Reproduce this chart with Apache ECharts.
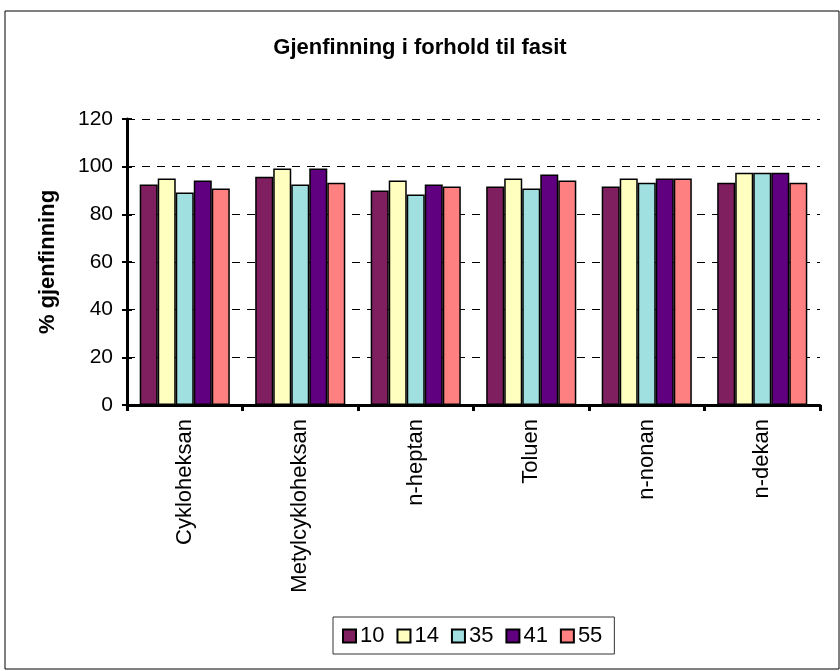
<!DOCTYPE html>
<html>
<head>
<meta charset="utf-8">
<script src="https://cdn.jsdelivr.net/npm/echarts@6/dist/echarts.min.js"></script>
<style>
  html, body { margin: 0; padding: 0; background: #fff; }
  #chart { width: 840px; height: 671px; }
</style>
</head>
<body>
<div id="chart"></div>
<script>
const categories = ['Cykloheksan', 'Metylcykloheksan', 'n-heptan', 'Toluen', 'n-nonan', 'n-dekan']
const seriesNames = ['10', '14', '35', '41', '55']
const s10 = [92.5, 95.8, 90.0, 91.7, 91.7, 93.3]
const s14 = [95.0, 99.2, 94.2, 95.0, 95.0, 97.5]
const s35 = [89.2, 92.5, 88.3, 90.8, 93.3, 97.5]
const s41 = [94.2, 99.2, 92.5, 96.7, 95.0, 97.5]
const s55 = [90.8, 93.3, 91.7, 94.2, 95.0, 93.3]
const colors = ['#7f1f5f', '#ffffc0', '#a0e0e0', '#600080', '#ff8080']

const font = 'Liberation Sans, Arial, sans-serif'
const values = [s10, s14, s35, s41, s55]

let chart = echarts.init(document.getElementById('chart'))
let option = {
    animation: false,
    graphic: [{
        type: 'rect',
        shape: { x: 5, y: 11, width: 834, height: 658 },
        style: { fill: 'none', stroke: '#000', lineWidth: 1 },
        silent: true
    }],
    title: {
        text: 'Gjenfinning i forhold til fasit',
        left: 'center',
        top: 32,
        textStyle: { fontFamily: font, fontSize: 22, fontWeight: 'bold', color: '#000' }
    },
    legend: {
        data: seriesNames,
        left: 333,
        top: 617,
        padding: [8, 12, 7, 9],
        borderColor: '#333',
        borderWidth: 1,
        itemWidth: 13,
        itemHeight: 13,
        itemGap: 12,
        icon: 'rect',
        textStyle: { fontFamily: font, fontSize: 22, color: '#000', padding: [0, 0, 0, -1] }
    },
    grid: { left: 127, right: 20, top: 119, bottom: 266, containLabel: false },
    xAxis: {
        type: 'category',
        data: categories,
        axisLine: { lineStyle: { color: '#000', width: 3 } },
        axisTick: { show: true, alignWithLabel: false, length: 6, lineStyle: { color: '#000', width: 3 } },
        axisLabel: { rotate: 90, margin: 14, fontFamily: font, fontSize: 22, color: '#000' }
    },
    yAxis: [{
        type: 'value',
        min: 0,
        max: 120,
        interval: 20,
        name: '% gjenfinning',
        nameLocation: 'middle',
        nameGap: 68,
        nameTextStyle: { fontFamily: font, fontSize: 22, fontWeight: 'bold', color: '#000' },
        axisLine: { show: true, lineStyle: { color: '#000', width: 3 } },
        axisTick: { show: true, length: 5, lineStyle: { color: '#000', width: 2 } },
        axisLabel: { margin: 14, fontFamily: font, fontSize: 21, color: '#000' },
        splitLine: { show: true, lineStyle: { color: '#000', type: [8, 7], width: 1 } }
    }, {
        type: 'value',
        position: 'left',
        min: 0,
        max: 120,
        interval: 20,
        axisLine: { show: false },
        axisTick: { show: true, inside: true, length: 5, lineStyle: { color: '#000', width: 2 } },
        axisLabel: { show: false },
        splitLine: { show: false }
    }],
    series: seriesNames.map((name, i) => ({
        name: name,
        type: 'bar',
        data: values[i],
        barGap: '0%',
        barCategoryGap: '22%',
        itemStyle: { color: colors[i], borderColor: '#000', borderWidth: 1.5 }
    }))
}
chart.setOption(option)
</script>
</body>
</html>
